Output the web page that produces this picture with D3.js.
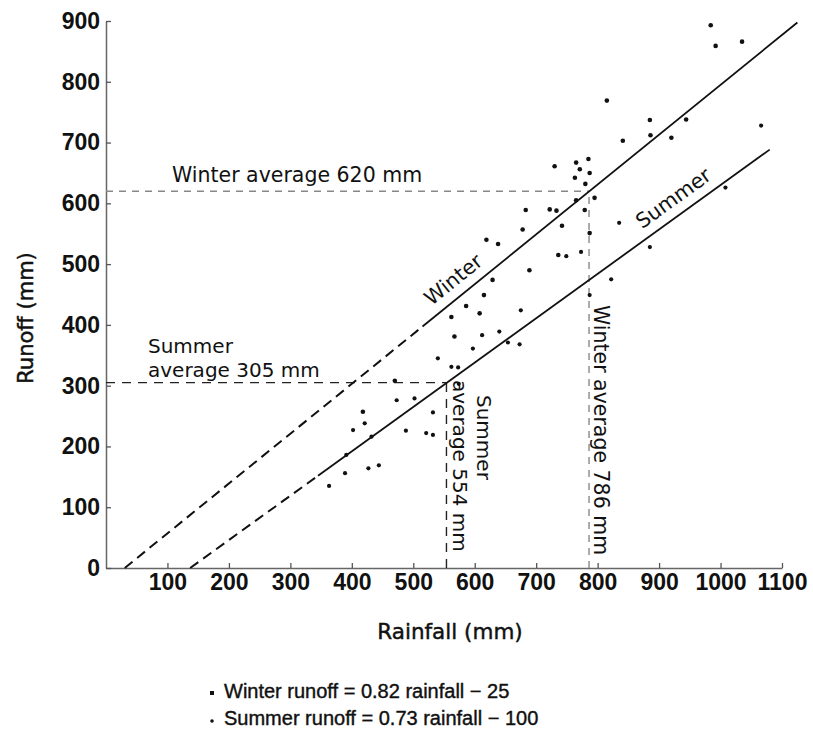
<!DOCTYPE html>
<html>
<head>
<meta charset="utf-8">
<script src="https://cdn.jsdelivr.net/npm/d3@7"></script>
<style>
  body { margin: 0; background: #fff; }
  text { font-family: "DejaVu Sans", sans-serif; fill: #111; }
  .tick text { font-family: "Liberation Sans", Arial, sans-serif; font-weight: bold; font-size: 23px; fill: #111; }
  .heavy { stroke: #111; stroke-width: 0.45px; }
  .key { font-family: "Liberation Sans", Arial, sans-serif; font-size: 20px; stroke: #111; stroke-width: 0.4px; }
</style>
</head>
<body>
<div id="chart"></div>
<script>
// Rainfall / runoff points (mm)
var winterRain   = [984, 992, 1035, 815, 885, 944, 886, 920, 841, 730, 765, 785, 771, 787, 763, 780, 795, 765, 779, 683, 722, 733, 678, 742, 619, 638, 787, 736, 689, 629, 615, 586, 608, 562, 567, 418, 470];
var winterRunoff = [893, 859, 866, 769, 737, 738, 712, 708, 703, 661, 667, 673, 656, 650, 642, 632, 609, 605, 589, 589, 590, 588, 557, 563, 540, 533, 551, 515, 490, 474, 449, 431, 419, 413, 381, 257, 308];

var summerRain   = [1066, 835, 1008, 749, 773, 885, 822, 787, 675, 612, 640, 654, 673, 597, 540, 562, 573, 574, 473, 502, 421, 402, 488, 532, 521, 532, 432, 391, 389, 427, 444, 363];
var summerRunoff = [728, 568, 626, 513, 520, 528, 475, 449, 424, 383, 389, 371, 368, 361, 345, 331, 330, 303, 276, 279, 238, 227, 226, 256, 222, 219, 216, 186, 156, 164, 169, 135];

// fitted lines: runoff = slope * rainfall + intercept
var fitNames      = ["Winter", "Summer"];
var fitSlopes     = [0.82, 0.73];
var fitIntercepts = [-25, -100];
var dashFrom      = [30.5, 137];
var solidFrom     = [515, 345];
var solidTo       = [1125, 1080];
var labelAt       = [540, 882];

// seasonal averages
var avgRain   = [786, 554];
var avgRunoff = [620, 305];

var xTicks = [100, 200, 300, 400, 500, 600, 700, 800, 900, 1000, 1100];
var yTicks = [0, 100, 200, 300, 400, 500, 600, 700, 800, 900];

var svgWidth = 813;
var svgHeight = 743;

var margin = { top: 21, right: 31, bottom: 175, left: 106 };
var width = svgWidth - margin.left - margin.right;
var height = svgHeight - margin.top - margin.bottom;

var svg = d3.select("#chart")
  .append("svg").attr("width", svgWidth).attr("height", svgHeight);

var chartGroup = svg.append("g")
  .attr("transform", `translate(${margin.left}, ${margin.top})`);

var x = d3.scaleLinear().domain([0, 1100]).range([0, width]);
var y = d3.scaleLinear().domain([0, 900]).range([height, 0]);

// axes
var xAxis = chartGroup.append("g")
  .attr("transform", `translate(0, ${height})`)
  .call(d3.axisBottom(x).tickValues(xTicks).tickFormat(d3.format("d"))
    .tickSize(-5).tickSizeOuter(0).tickPadding(6));

var yAxis = chartGroup.append("g")
  .call(d3.axisLeft(y).tickValues(yTicks).tickFormat(d3.format("d"))
    .tickSize(-5).tickSizeOuter(0).tickPadding(6));

chartGroup.selectAll(".domain").attr("stroke", "#666").attr("stroke-width", 1.5);
chartGroup.selectAll(".tick line").attr("stroke", "#555").attr("stroke-width", 1.3);

// average guide lines
var avgColor = ["#888", "#222"];
var avgDash = ["7,6", "9,7"];
avgRain.forEach(function(r, i) {
  chartGroup.append("line")
    .attr("x1", x(0)).attr("x2", x(r))
    .attr("y1", y(avgRunoff[i])).attr("y2", y(avgRunoff[i]))
    .attr("stroke", avgColor[i]).attr("stroke-width", 1.4)
    .attr("stroke-dasharray", avgDash[i]);
  chartGroup.append("line")
    .attr("x1", x(r)).attr("x2", x(r))
    .attr("y1", y(0)).attr("y2", y(avgRunoff[i]))
    .attr("stroke", avgColor[i]).attr("stroke-width", 1.4)
    .attr("stroke-dasharray", avgDash[i]);
});

// regression lines, dashed where extrapolated
fitNames.forEach(function(name, i) {
  var f = function(r) { return fitSlopes[i] * r + fitIntercepts[i]; };
  chartGroup.append("line")
    .attr("x1", x(dashFrom[i])).attr("y1", y(f(dashFrom[i])))
    .attr("x2", x(solidFrom[i])).attr("y2", y(f(solidFrom[i])))
    .attr("stroke", "#111").attr("stroke-width", 2)
    .attr("stroke-dasharray", "10,6");
  chartGroup.append("line")
    .attr("x1", x(solidFrom[i])).attr("y1", y(f(solidFrom[i])))
    .attr("x2", x(solidTo[i])).attr("y2", y(f(solidTo[i])))
    .attr("stroke", "#111").attr("stroke-width", 1.8);

  // label along the line
  var ang = Math.atan(fitSlopes[i] * (height / 900) / (width / 1100));
  var bx = x(labelAt[i]) - 10 * Math.sin(ang);
  var by = y(f(labelAt[i])) - 10 * Math.cos(ang);
  chartGroup.append("text")
    .attr("transform", `translate(${bx}, ${by}) rotate(${-ang * 180 / Math.PI})`)
    .attr("font-size", "20.5px")
    .text(name);
});

// points
chartGroup.selectAll(".winter")
  .data(winterRain)
  .enter()
  .append("circle")
  .attr("cx", d => x(d))
  .attr("cy", (d, i) => y(winterRunoff[i]))
  .attr("r", 2.3)
  .attr("fill", "#111");

chartGroup.selectAll(".summer")
  .data(summerRain)
  .enter()
  .append("circle")
  .attr("cx", d => x(d))
  .attr("cy", (d, i) => y(summerRunoff[i]))
  .attr("r", 2.1)
  .attr("fill", "#111");

// annotations
svg.append("text").attr("x", 172).attr("y", 182).attr("font-size", "20.5px")
  .text("Winter average 620 mm");
svg.append("text").attr("x", 148).attr("y", 353).attr("font-size", "20px")
  .text("Summer");
svg.append("text").attr("x", 148).attr("y", 377).attr("font-size", "20px")
  .text("average 305 mm");

svg.append("text").attr("transform", "translate(477, 395) rotate(90)").attr("font-size", "20px")
  .text("Summer");
svg.append("text").attr("transform", "translate(453, 380) rotate(90)").attr("font-size", "20px")
  .text("average 554 mm");
svg.append("text").attr("transform", "translate(594, 305) rotate(90)").attr("font-size", "20.5px")
  .text("Winter average 786 mm");

// axis titles
svg.append("text")
  .attr("class", "heavy")
  .attr("transform", "translate(33, 318) rotate(-90)")
  .attr("text-anchor", "middle")
  .attr("font-size", "21px")
  .text("Runoff (mm)");

svg.append("text")
  .attr("class", "heavy")
  .attr("x", 450).attr("y", 639)
  .attr("text-anchor", "middle")
  .attr("font-size", "21.5px")
  .text("Rainfall (mm)");

// key
svg.append("rect").attr("x", 210).attr("y", 691).attr("width", 4).attr("height", 4).attr("fill", "#111");
svg.append("text").attr("class", "key").attr("x", 224).attr("y", 698)
  .text("Winter runoff = 0.82 rainfall \u2212 25");
svg.append("circle").attr("cx", 212).attr("cy", 721).attr("r", 1.8).attr("fill", "#111");
svg.append("text").attr("class", "key").attr("x", 224).attr("y", 725)
  .text("Summer runoff = 0.73 rainfall \u2212 100");
</script>
</body>
</html>
